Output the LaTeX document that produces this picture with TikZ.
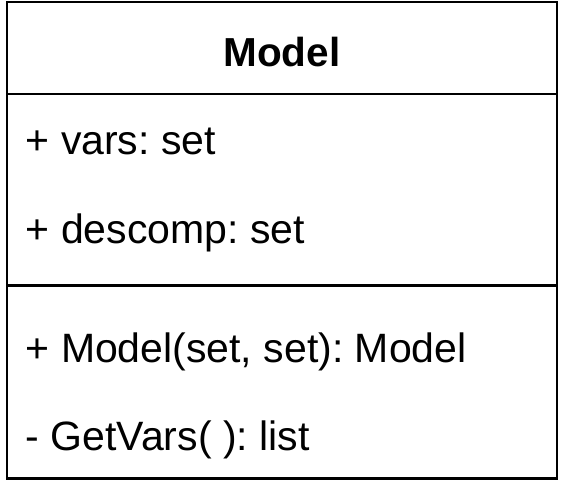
\documentclass[tikz,border=0pt]{standalone}
\usepackage{fontspec}
\setmainfont{Liberation Sans}
\frenchspacing
\begin{document}
\begin{tikzpicture}[x=1pt,y=-1pt,
  umlline/.style={line width=2.5pt,draw=black},
  member/.style={anchor=base west,inner sep=0pt,font=\fontsize{41}{48}\selectfont},
  title/.style={anchor=base,inner sep=0pt,font=\fontsize{40.5}{48}\selectfont\bfseries}]
\useasboundingbox (0,0) rectangle (564,482);
\coordinate (tl) at (7,2);
\coordinate (br) at (557,478.5);
\draw[umlline] (tl) rectangle (br);
\coordinate (d1l) at (7,94);
\coordinate (d1r) at (557,94);
\coordinate (d2l) at (7,285.5);
\coordinate (d2r) at (557,285.5);
\draw[umlline] (d1l) -- (d1r);
\draw[umlline] (d2l) -- (d2r);
\node[title] (name) at (282,66) {Model};
\node[member] (a1) at (25.5,154) {+ vars: set};
\node[member] (a2) at (25.5,243) {+ descomp: set};
\node[member] (m1) at (25.5,362) {+ Model(set, set): Model};
\node[member] (m2) at (25.5,450) {- GetVars( ): list};
\end{tikzpicture}
\end{document}
